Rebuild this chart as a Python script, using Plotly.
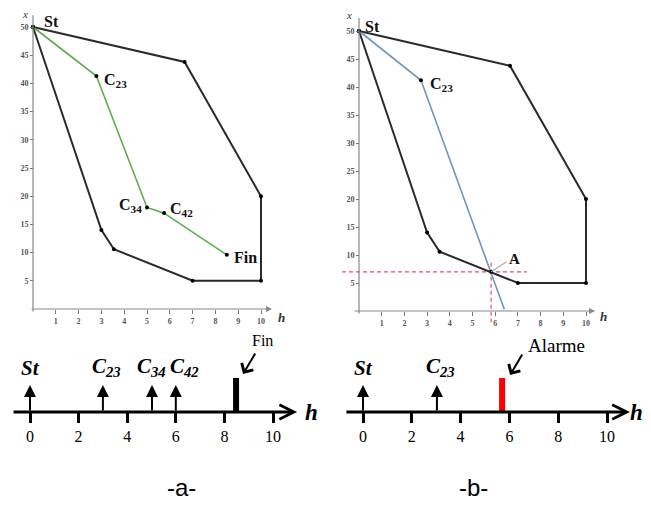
import plotly.graph_objects as go

W, H = 651, 515
OFF = 8  # page body margin offset in the browser
SERIF = "Liberation Serif, Times New Roman, serif"
SANS = "Liberation Sans, Arial, sans-serif"

# ---------------- data ----------------
poly_h = [0, 6.65, 10, 10, 7, 3.55, 3, 0]
poly_x = [50, 43.8, 20, 5, 5, 10.6, 14, 50]

path_a_h = [0, 2.78, 5.0, 5.75, 8.5]
path_a_x = [50, 41.3, 18.0, 17.0, 9.6]
path_a_lbl = ["St", "C<sub>23</sub>", "C<sub>34</sub>", "C<sub>42</sub>", "Fin"]

path_b_h = [0, 2.73, 6.4]
path_b_x = [50, 41.2, 0.3]
path_b_lbl = ["St", "C<sub>23</sub>"]

alarm_h = 5.82
alarm_x = 7.0

plot_ticks_h = list(range(1, 11))
plot_ticks_x = list(range(5, 55, 5))

tl_ticks = [0, 2, 4, 6, 8, 10]
tl_a_ev_h = [0, 3.0, 5.02, 6.0]
tl_a_ev_lbl = ["St", "C<sub>23</sub>", "C<sub>34</sub>", "C<sub>42</sub>"]
tl_a_end_h = 8.48
tl_b_ev_h = [0, 3.03]
tl_b_ev_lbl = ["St", "C<sub>23</sub>"]
tl_b_end_h = 5.70


# ---------------- helpers (pixel layout) ----------------
def xdom(px0, px1, origin, scale):
    return [(px0 - OFF) / W, (px1 - OFF) / W], [(px0 - origin) / scale, (px1 - origin) / scale]


def ydom(py0, py1, origin, scale):
    return ([(H - (py1 - OFF)) / H, (H - (py0 - OFF)) / H],
            [(origin - py1) / scale, (origin - py0) / scale])


def xpos(px):
    return (px - OFF) / W


def ypos(py):
    return (H - (py - OFF)) / H


fig = go.Figure()

POLY_C = "#2a2a2a"
GREEN = "#5eab4e"
BLUE = "#7296b6"
RED_D = "#e0506a"

# top-left
fig.add_trace(go.Scatter(x=poly_h, y=poly_x, mode="lines+markers",
                         line=dict(color=POLY_C, width=2), marker=dict(size=4, color="black"),
                         xaxis="x", yaxis="y", showlegend=False, hoverinfo="skip"))
fig.add_trace(go.Scatter(x=path_a_h, y=path_a_x, mode="lines+markers",
                         line=dict(color=GREEN, width=1.6), marker=dict(size=4, color="black"),
                         xaxis="x", yaxis="y", showlegend=False, hoverinfo="skip"))
# top-right
fig.add_trace(go.Scatter(x=poly_h, y=poly_x, mode="lines+markers",
                         line=dict(color=POLY_C, width=2), marker=dict(size=4, color="black"),
                         xaxis="x2", yaxis="y2", showlegend=False, hoverinfo="skip"))
fig.add_trace(go.Scatter(x=[-0.75, 7.4], y=[alarm_x, alarm_x], mode="lines",
                         line=dict(color=RED_D, width=1.2, dash="4px,3px"),
                         xaxis="x2", yaxis="y2", showlegend=False, hoverinfo="skip"))
fig.add_trace(go.Scatter(x=[alarm_h, alarm_h], y=[8.6, -2.0], mode="lines",
                         line=dict(color=RED_D, width=1.2, dash="4px,3px"),
                         xaxis="x2", yaxis="y2", showlegend=False, hoverinfo="skip"))
fig.add_trace(go.Scatter(x=path_b_h, y=path_b_x, mode="lines",
                         line=dict(color=BLUE, width=1.6),
                         xaxis="x2", yaxis="y2", showlegend=False, hoverinfo="skip"))
fig.add_trace(go.Scatter(x=path_b_h[:2] + [alarm_h], y=path_b_x[:2] + [alarm_x], mode="markers",
                         marker=dict(size=4, color="black"),
                         xaxis="x2", yaxis="y2", showlegend=False, hoverinfo="skip"))

# timelines: end bars
fig.add_trace(go.Scatter(x=[tl_a_end_h, tl_a_end_h], y=[0, 1.26], mode="lines",
                         line=dict(color="black", width=6),
                         xaxis="x3", yaxis="y3", showlegend=False, hoverinfo="skip"))
fig.add_trace(go.Scatter(x=[tl_b_end_h, tl_b_end_h], y=[0, 1.26], mode="lines",
                         line=dict(color="#ff0000", width=6),
                         xaxis="x4", yaxis="y4", showlegend=False, hoverinfo="skip"))

ann = []

# top plot labels
a_xs = [9, 6, -3, 4, 5]
a_ys = [5, -4, 2, 4, -3]
for h, v, t, xs, ys in zip(path_a_h, path_a_x, path_a_lbl, a_xs, a_ys):
    ann.append(dict(x=h, y=v, xref="x", yref="y", text="<b>%s</b>" % t, showarrow=False,
                    xanchor="right" if xs < 0 else "left", xshift=xs, yshift=ys,
                    font=dict(family=SERIF, size=16, color="#111")))
b_xs = [4, 7]
b_ys = [4, -4]
for h, v, t, xs, ys in zip(path_b_h, path_b_x, path_b_lbl, b_xs, b_ys):
    ann.append(dict(x=h, y=v, xref="x2", yref="y2", text="<b>%s</b>" % t, showarrow=False,
                    xanchor="left", xshift=xs, yshift=ys,
                    font=dict(family=SERIF, size=16, color="#111")))
# A label
ann.append(dict(x=alarm_h, y=alarm_x, xref="x2", yref="y2", text="", showarrow=True,
                ax=17, ay=-11, arrowhead=0, arrowwidth=1.2, arrowcolor="#aaaaaa"))
ann.append(dict(x=alarm_h, y=alarm_x, xref="x2", yref="y2", text="<b>A</b>", showarrow=False,
                xanchor="left", xshift=16, yshift=13, font=dict(family=SERIF, size=15, color="#111")))

# top axes lines
for xr, yr, x0, x1, y0, y1 in [("x", "y", -0.13, 10.48, -0.7, 52.1),
                               ("x2", "y2", -0.26, 10.4, -0.7, 52.3)]:
    ann.append(dict(x=x1, y=0, ax=x0, ay=0, xref=xr, yref=yr, axref=xr, ayref=yr, text="",
                    showarrow=True, arrowhead=2, arrowsize=1, arrowwidth=1.2, arrowcolor="#888"))
    ann.append(dict(x=0, y=y1, ax=0, ay=y0, xref=xr, yref=yr, axref=xr, ayref=yr, text="",
                    showarrow=True, arrowhead=0, arrowwidth=1.2, arrowcolor="#888"))

# top axis titles
ann.append(dict(x=-0.35, y=52.3, xref="x", yref="y", text="<i>x</i>", showarrow=False,
                font=dict(family=SERIF, size=11, color="#333")))
ann.append(dict(x=-0.44, y=52.8, xref="x2", yref="y2", text="<i>x</i>", showarrow=False,
                font=dict(family=SERIF, size=11, color="#333")))
ann.append(dict(x=10.92, y=-1.42, xref="x", yref="y", text="<b><i>h</i></b>", showarrow=False,
                font=dict(family=SERIF, size=13, color="#333")))
ann.append(dict(x=10.79, y=-1.07, xref="x2", yref="y2", text="<b><i>h</i></b>", showarrow=False,
                font=dict(family=SERIF, size=13, color="#333")))

# timelines
for xr, yr, x0, x1, hx in [("x3", "y3", -0.74, 10.99, 11.6), ("x4", "y4", -0.74, 10.94, 11.2)]:
    ann.append(dict(x=x1, y=0, ax=x0, ay=0, xref=xr, yref=yr, axref=xr, ayref=yr, text="",
                    showarrow=True, arrowhead=5, arrowsize=0.95, arrowwidth=3, arrowcolor="black"))
    ann.append(dict(x=hx, y=0, xref=xr, yref=yr, text="<b><i>h</i></b>", showarrow=False,
                    font=dict(family=SERIF, size=23, color="black")))

tl_a_xs = [0, 4, 0, 9]
for h, t, xs in zip(tl_a_ev_h, tl_a_ev_lbl, tl_a_xs):
    ann.append(dict(x=h, y=1.0, ax=h, ay=0, xref="x3", yref="y3", axref="x3", ayref="y3", text="",
                    showarrow=True, arrowhead=2, arrowsize=1.2, arrowwidth=2, arrowcolor="black"))
    ann.append(dict(x=h, y=1.0, xref="x3", yref="y3", text="<b><i>%s</i></b>" % t, showarrow=False,
                    yanchor="bottom", yshift=3, xshift=xs, font=dict(family=SERIF, size=21, color="black")))
tl_b_xs = [0, 4]
for h, t, xs in zip(tl_b_ev_h, tl_b_ev_lbl, tl_b_xs):
    ann.append(dict(x=h, y=1.0, ax=h, ay=0, xref="x4", yref="y4", axref="x4", ayref="y4", text="",
                    showarrow=True, arrowhead=2, arrowsize=1.2, arrowwidth=2, arrowcolor="black"))
    ann.append(dict(x=h, y=1.0, xref="x4", yref="y4", text="<b><i>%s</i></b>" % t, showarrow=False,
                    yanchor="bottom", yshift=3, xshift=xs, font=dict(family=SERIF, size=21, color="black")))

# Fin / Alarme
ann.append(dict(x=tl_a_end_h, y=1.26, xref="x3", yref="y3", text="", showarrow=True,
                ax=13, ay=-22, arrowhead=4, arrowsize=1.3, arrowwidth=2, arrowcolor="black",
                xshift=7, yshift=4))
ann.append(dict(x=tl_a_end_h, y=1.26, xref="x3", yref="y3", text="Fin", showarrow=False,
                xshift=26, yshift=37, font=dict(family=SERIF, size=16, color="black")))
ann.append(dict(x=tl_b_end_h, y=1.26, xref="x4", yref="y4", text="", showarrow=True,
                ax=13, ay=-22, arrowhead=4, arrowsize=1.3, arrowwidth=2, arrowcolor="black",
                xshift=8, yshift=3))
ann.append(dict(x=tl_b_end_h, y=1.26, xref="x4", yref="y4", text="Alarme", showarrow=False,
                xshift=54, yshift=32, font=dict(family=SERIF, size=19, color="black")))

ann.append(dict(x=xpos(165), y=ypos(503), xref="paper", yref="paper", text="-a-", showarrow=False,
                font=dict(family=SANS, size=24, color="black")))
ann.append(dict(x=xpos(490), y=ypos(503), xref="paper", yref="paper", text="-b-", showarrow=False,
                font=dict(family=SANS, size=24, color="black")))

# ---------------- axes ----------------
TICKF = dict(family=SERIF, size=8, color="#555", weight="bold")

d1x, r1x = xdom(12, 300, 33, 22.8)
d1y, r1y = ydom(10, 330, 309, 5.64)
d2x, r2x = xdom(335, 620, 359, 22.7)
d2y, r2y = ydom(10, 330, 311, 5.6)
d3x, r3x = xdom(8, 330, 30, 24.3)
d3y, r3y = ydom(340, 450, 412, 27)
d4x, r4x = xdom(333, 655, 363, 24.4)
d4y, r4y = ydom(340, 450, 412, 27)


def top_x(dom, rng, pos):
    return dict(domain=dom, range=rng, anchor="free", position=pos, showgrid=False, zeroline=False,
                showline=False, tickmode="array", tickvals=plot_ticks_h, ticks="outside", ticklen=4,
                tickwidth=1, tickcolor="#777", tickfont=TICKF, fixedrange=True)


def top_y(dom, rng, pos):
    return dict(domain=dom, range=rng, anchor="free", position=pos, showgrid=False, zeroline=False,
                showline=False, tickmode="array", tickvals=plot_ticks_x, ticks="outside", ticklen=3,
                tickwidth=1, tickcolor="#777", tickfont=TICKF, fixedrange=True)


def tl_x(dom, rng):
    return dict(domain=dom, range=rng, anchor="free", position=ypos(412), showgrid=False,
                zeroline=False, showline=False, tickmode="array", tickvals=tl_ticks, ticks="outside",
                ticklen=10, tickwidth=3, tickcolor="black",
                tickfont=dict(family=SERIF, size=16, color="black"), fixedrange=True)


def tl_y(dom, rng):
    return dict(domain=dom, range=rng, anchor="free", position=0, visible=False, fixedrange=True)


fig.update_layout(
    width=W, height=H, margin=dict(l=0, r=0, t=0, b=0),
    paper_bgcolor="white", plot_bgcolor="white", showlegend=False,
    xaxis=top_x(d1x, r1x, ypos(309)), yaxis=top_y(d1y, r1y, xpos(33)),
    xaxis2=top_x(d2x, r2x, ypos(311)), yaxis2=top_y(d2y, r2y, xpos(359)),
    xaxis3=tl_x(d3x, r3x), yaxis3=tl_y(d3y, r3y),
    xaxis4=tl_x(d4x, r4x), yaxis4=tl_y(d4y, r4y),
    annotations=ann,
)

fig.write_html("out.html")
